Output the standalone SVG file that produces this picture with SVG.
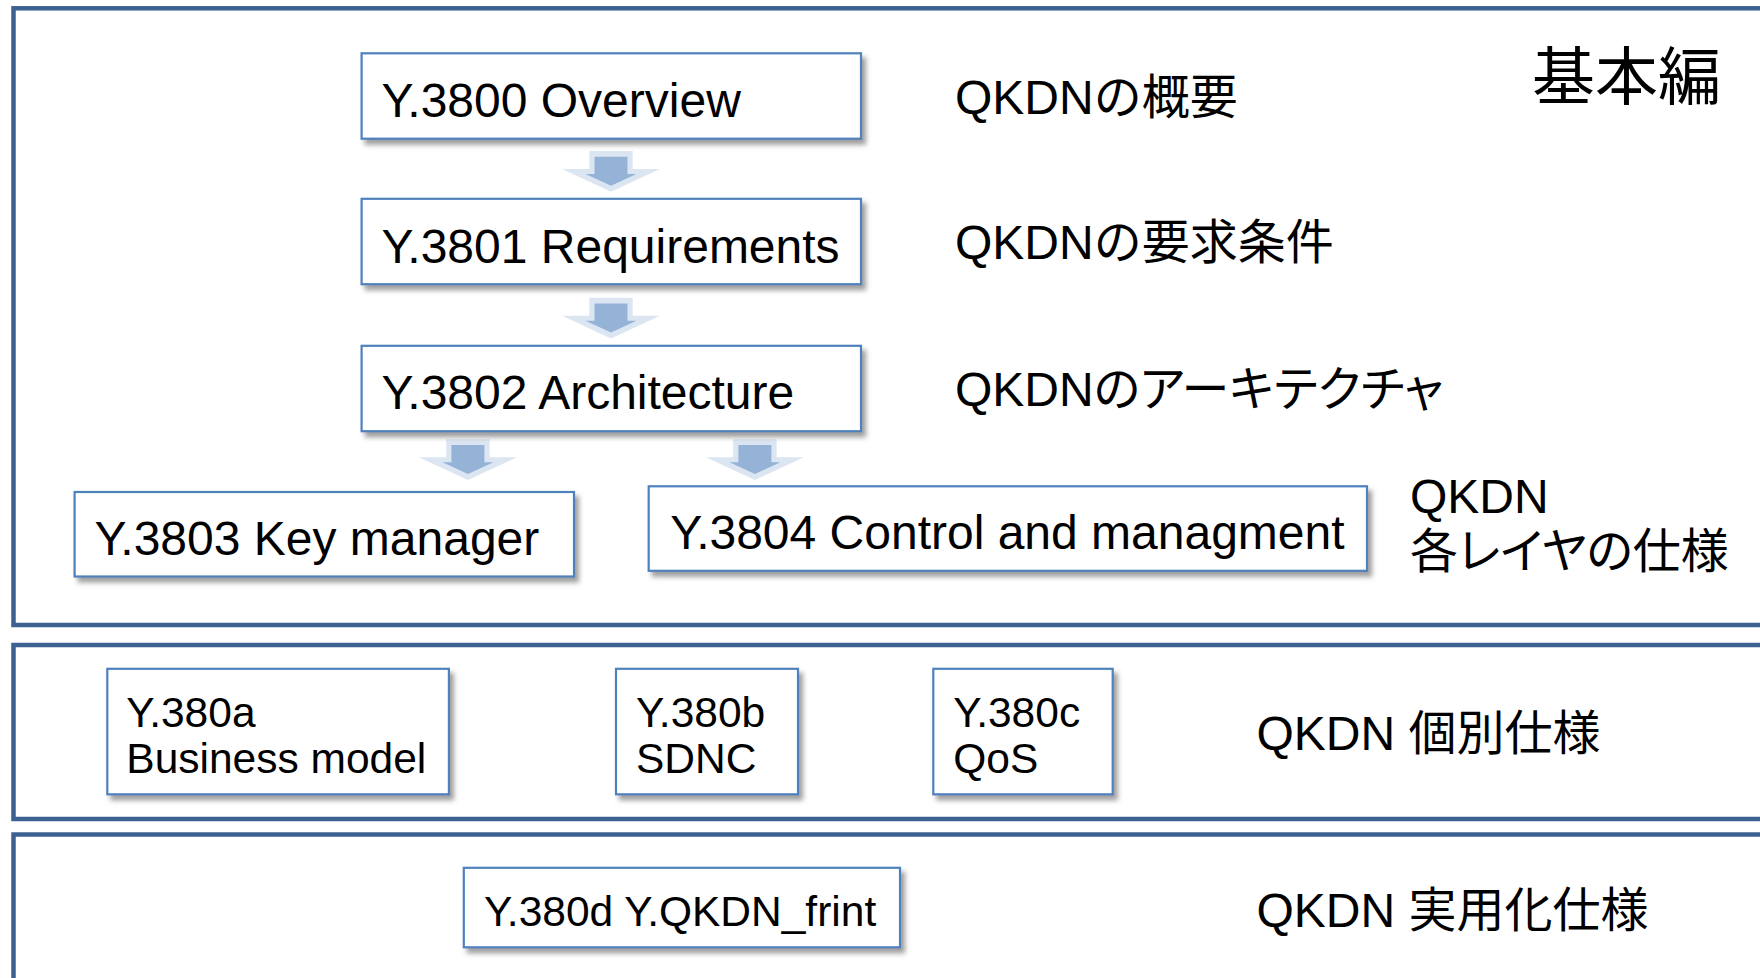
<svg xmlns="http://www.w3.org/2000/svg" xmlns:xlink="http://www.w3.org/1999/xlink" width="1760" height="978" viewBox="0 0 1760 978">
<style>
.panel{fill:none;stroke:#3D6292;stroke-width:4.5}
.box{fill:#ffffff;stroke:#4F81BD;stroke-width:2.2}
.t{font-family:"Liberation Sans","Noto Sans CJK JP",sans-serif;fill:#000000}
.big{font-size:48px}
.mid{font-size:42.5px}
.title{font-size:63px}
.palt{font-feature-settings:"palt"}
.arrOut{fill:#DCE6F2}
.arrIn{fill:#95B3D7}
</style>
<defs>
<filter id="sh" x="-10%" y="-20%" width="125%" height="150%">
<feGaussianBlur in="SourceAlpha" stdDeviation="2.5"/>
<feOffset dx="4" dy="5" result="b"/>
<feFlood flood-color="#7f7f7f" flood-opacity="0.75"/>
<feComposite in2="b" operator="in"/>
<feMerge><feMergeNode/><feMergeNode in="SourceGraphic"/></feMerge>
</filter>
<g id="arrow">
<polygon class="arrOut" points="-21.7,0 21.7,0 21.7,18 49,18 0,40.7 -49,18 -21.7,18"/>
<polygon class="arrIn" points="-16.5,5.7 16.5,5.7 16.5,23 25.5,23 0,34.7 -25.5,23 -16.5,23"/>
</g>
</defs>
<rect width="1760" height="978" fill="#ffffff"/>
<g id="panels">
<rect class="panel" x="13.5" y="8.3" width="1780" height="616.7"/>
<rect class="panel" x="13.5" y="645" width="1780" height="174"/>
<rect class="panel" x="13.5" y="834.5" width="1780" height="200"/>
</g>
<g id="connectors">
<use xlink:href="#arrow" href="#arrow" x="611" y="151"/>
<use xlink:href="#arrow" href="#arrow" x="611" y="297.7"/>
<use xlink:href="#arrow" href="#arrow" x="467.9" y="439.3"/>
<use xlink:href="#arrow" href="#arrow" x="754.9" y="439.3"/>
</g>
<g id="n3800">
<rect class="box" filter="url(#sh)" x="361.6" y="53.3" width="499.4" height="85.4"/>
<text class="t big" x="381.5" y="116.7">Y.3800 Overview</text>
</g>
<g id="n3801">
<rect class="box" filter="url(#sh)" x="361.6" y="198.8" width="499.4" height="85.4"/>
<text class="t big" x="381.5" y="263.3">Y.3801 Requirements</text>
</g>
<g id="n3802">
<rect class="box" filter="url(#sh)" x="361.6" y="345.8" width="499.4" height="85.4"/>
<text class="t big" x="381.5" y="409.3">Y.3802 Architecture</text>
</g>
<g id="n3803">
<rect class="box" filter="url(#sh)" x="74.6" y="492" width="499.4" height="84.5"/>
<text class="t big" x="94.5" y="554.8">Y.3803 Key manager</text>
</g>
<g id="n3804">
<rect class="box" filter="url(#sh)" x="648.7" y="486.3" width="718.3" height="84.5"/>
<text class="t big" x="670.3" y="548.7">Y.3804 Control and managment</text>
</g>
<g id="n380a">
<rect class="box" filter="url(#sh)" x="107.3" y="668.8" width="341.6" height="125.5"/>
<text class="t mid" x="126.3" y="727">Y.380a</text>
<text class="t mid" x="126.3" y="773">Business model</text>
</g>
<g id="n380b">
<rect class="box" filter="url(#sh)" x="616" y="668.8" width="182" height="125.5"/>
<text class="t mid" x="636" y="727">Y.380b</text>
<text class="t mid" x="636" y="773">SDNC</text>
</g>
<g id="n380c">
<rect class="box" filter="url(#sh)" x="933.3" y="668.8" width="179.4" height="125.5"/>
<text class="t mid" x="953.3" y="727">Y.380c</text>
<text class="t mid" x="953.3" y="773">QoS</text>
</g>
<g id="n380d">
<rect class="box" filter="url(#sh)" x="463.8" y="867.8" width="436.2" height="79.5"/>
<text class="t mid" x="484" y="925.6">Y.380d Y.QKDN_frint</text>
</g>
<g id="labels">
<text class="t title" x="1532" y="99">基本編</text>
<text class="t big" x="955" y="113.5">QKDNの概要</text>
<text class="t big" x="955" y="259">QKDNの要求条件</text>
<text class="t big palt" x="955" y="406">QKDNのアーキテクチャ</text>
<text class="t big" x="1410" y="512.5">QKDN</text>
<text class="t big palt" x="1410" y="568">各レイヤの仕様</text>
<text class="t big" x="1256.5" y="750">QKDN 個別仕様</text>
<text class="t big" x="1256.5" y="926.7">QKDN 実用化仕様</text>
</g>
</svg>
